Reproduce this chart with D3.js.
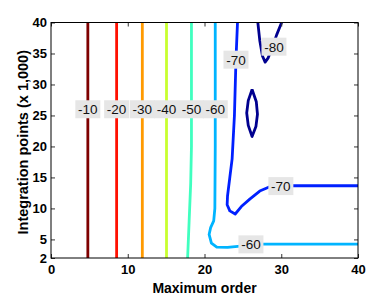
<!DOCTYPE html>
<html>
<head>
<meta charset="utf-8">
<script src="https://cdn.jsdelivr.net/npm/d3@7"></script>
<style>
  body { margin: 0; background: #fff; }
  text { font-family: "Liberation Sans", Arial, sans-serif; }
</style>
</head>
<body>
<div id="chart"></div>
<script>
const WIDTH = 374;
const HEIGHT = 299;
const MARGIN = { top: 22.5, right: 16, bottom: 41, left: 51 };

// contour levels and their colours (jet)
const levels = [-10, -20, -30, -40, -50, -60, -70, -80, -80];
const colors = ['#7f0000', '#ff1000', '#ff9a00', '#c8ff30', '#40ffbf', '#00b4ff', '#0020ff', '#00008f', '#00008f'];

// contour paths: [maximum order, integration points (x 1,000)]
const contours = [
  [[4.8, 2], [4.8, 40]],
  [[8.55, 2], [8.55, 40]],
  [[11.9, 2], [11.9, 40]],
  [[15.05, 2], [15.05, 40]],
  [[17.8, 2], [18.0, 8], [18.2, 14], [18.3, 20], [18.3, 40]],
  [[40, 4.25], [27.5, 4.25], [25, 3.95], [23, 3.7], [21.6, 3.75], [20.9, 4.4], [20.6, 5.8], [20.8, 6.9],
   [21.2, 8], [21.35, 10], [21.4, 20], [21.4, 40]],
  [[40, 13.66], [30, 13.66], [28.5, 13.5], [27.2, 12.8], [25.9, 11.5], [24.8, 10.3], [24.0, 9.1],
   [23.3, 9.6], [22.95, 10.6], [23.0, 12], [23.3, 15], [23.6, 18], [23.9, 25], [24.1, 34], [24.3, 40]],
  [[26.95, 40], [27.2, 37.1], [27.55, 34.6], [27.9, 33.6], [28.3, 34.3], [28.8, 35.9], [29.4, 38], [30.05, 40]],
  [[26.2, 29.2], [26.75, 27.2], [26.9, 25.2], [26.7, 23.2], [26.2, 21.6], [25.7, 23.4], [25.5, 25.4],
   [25.7, 27.4], [26.2, 29.2]]
];

// contour labels: text and position in data units
const labelText = ['-10', '-20', '-30', '-40', '-50', '-60', '-70', '-80', '-70', '-60'];
const labelX = [4.8, 8.55, 11.9, 15.05, 18.3, 21.4, 24.1, 29.05, 29.95, 26.05];
const labelY = [26.0, 26.0, 26.0, 26.0, 26.0, 26.0, 34.0, 36.1, 13.6, 4.2];

const xTicks = [0, 10, 20, 30, 40];
const yTicks = [2, 5, 10, 15, 20, 25, 30, 35, 40];

const svg = d3.select('#chart')
  .append('svg')
  .attr('width', WIDTH)
  .attr('height', HEIGHT);

const x = d3.scaleLinear().domain([0, 40]).range([MARGIN.left, WIDTH - MARGIN.right]);
const y = d3.scaleLinear().domain([2, 40]).range([HEIGHT - MARGIN.bottom, MARGIN.top]);

const plot = svg.append('g');

plot.append('clipPath').attr('id', 'clip')
  .append('rect')
  .attr('x', x(0)).attr('y', y(40))
  .attr('width', x(40) - x(0)).attr('height', y(2) - y(40));

const line = d3.line().x(d => x(d[0])).y(d => y(d[1]));

plot.append('g')
  .attr('clip-path', 'url(#clip)')
  .selectAll('path')
  .data(contours)
  .join('path')
  .attr('d', line)
  .attr('fill', 'none')
  .attr('stroke', (_, i) => colors[i])
  .attr('stroke-width', 2.8)
  .attr('stroke-linejoin', 'round');

// labels
const labels = plot.append('g')
  .selectAll('g')
  .data(labelText)
  .join('g')
  .attr('transform', (_, i) => `translate(${x(labelX[i])},${y(labelY[i])})`);

labels.append('rect')
  .attr('x', -12.5).attr('y', -9)
  .attr('width', 25).attr('height', 18)
  .attr('fill', '#e6e6e6');

labels.append('text')
  .attr('text-anchor', 'middle')
  .attr('dy', '0.36em')
  .attr('font-size', 13.5)
  .attr('fill', '#111')
  .text(d => d);

// axes (ticks inward, mirrored)
const tickLen = 4;
const axisStyle = g => {
  g.select('.domain').remove();
  g.selectAll('line').attr('stroke', '#333');
};

svg.append('g')
  .attr('transform', `translate(0,${y(2)})`)
  .call(d3.axisBottom(x).tickValues(xTicks).tickSize(-tickLen).tickPadding(7))
  .call(axisStyle)
  .call(g => g.selectAll('text').attr('font-size', 13).attr('font-weight', 'bold').attr('fill', '#000')
    .attr('font-family', '"Liberation Sans", Arial, sans-serif'));

svg.append('g')
  .attr('transform', `translate(0,${y(40)})`)
  .call(d3.axisTop(x).tickValues(xTicks).tickSize(-tickLen).tickFormat(''))
  .call(axisStyle);

svg.append('g')
  .attr('transform', `translate(${x(0)},0)`)
  .call(d3.axisLeft(y).tickValues(yTicks).tickSize(-tickLen).tickPadding(4))
  .call(axisStyle)
  .call(g => g.selectAll('text').attr('font-size', 13).attr('font-weight', 'bold').attr('fill', '#000')
    .attr('font-family', '"Liberation Sans", Arial, sans-serif'));

svg.append('g')
  .attr('transform', `translate(${x(40)},0)`)
  .call(d3.axisRight(y).tickValues(yTicks).tickSize(-tickLen).tickFormat(''))
  .call(axisStyle);

// frame
svg.append('rect')
  .attr('x', x(0)).attr('y', y(40))
  .attr('width', x(40) - x(0)).attr('height', y(2) - y(40))
  .attr('fill', 'none')
  .attr('stroke', '#000')
  .attr('stroke-width', 1);

// axis titles
svg.append('text')
  .attr('x', (x(0) + x(40)) / 2)
  .attr('y', 293)
  .attr('text-anchor', 'middle')
  .attr('font-size', 14)
  .attr('font-weight', 'bold')
  .text('Maximum order');

svg.append('text')
  .attr('transform', `translate(28,${(y(2) + y(40)) / 2 + 2}) rotate(-90)`)
  .attr('text-anchor', 'middle')
  .attr('font-size', 14.5)
  .attr('font-weight', 'bold')
  .text('Integration points (x 1,000)');
</script>
</body>
</html>
